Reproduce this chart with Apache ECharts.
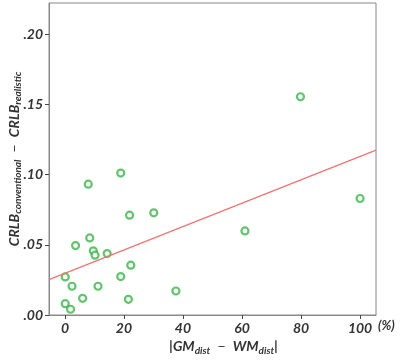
<!DOCTYPE html>
<html lang="en">
<head>
    <title>CRLB difference</title>
    <meta charset="UTF-8">
    <style type="text/css">
        html, body { margin: 0px; width: 100%; height: 100%; background: #fff; }
        #chart { width: 400px; height: 363px; }
    </style>
    <script type="text/javascript" src="https://cdn.jsdelivr.net/npm/echarts@6/dist/echarts.min.js"></script>
</head>
<body>
<div id="chart"></div>
<script type="text/javascript">
    // |GM_dist - WM_dist| (%) vs CRLB_conventional - CRLB_realistic
    var distDiff = [79.8, 18.9, 7.9, 100, 30.1, 21.9, 61.0, 8.4, 3.6, 9.6, 10.2,
        14.3, 22.3, 0.1, 18.9, 2.4, 11.2, 37.6, 6.0, 21.5, 0.1, 1.9];
    var crlbDiff = [0.1555, 0.1011, 0.0932, 0.0830, 0.0728, 0.0711, 0.0599, 0.0549, 0.0495, 0.0457, 0.0426,
        0.0438, 0.0355, 0.0271, 0.0274, 0.0205, 0.0205, 0.0171, 0.0119, 0.0112, 0.0081, 0.0041];
    // fitted line, end points read at the plot edges
    var fitX = [-5.4, 105.4];
    var fitY = [0.0252, 0.1175];
    var xTicks = [0, 20, 40, 60, 80, 100];
    var yTicks = [0, 0.05, 0.10, 0.15, 0.20];

    var font = 'Lato';
    var labelStyle = { fontFamily: font, fontWeight: 'bold', fontStyle: 'italic', fontSize: 14, color: '#333' };

    function draw() {
        var chart = echarts.init(document.getElementById('chart'));
        var points = distDiff.map(function (x, i) { return [x, crlbDiff[i]]; });
        var line = fitX.map(function (x, i) { return [x, fitY[i]]; });
        var rich = {
            b: { fontFamily: font, fontWeight: 'bold', fontStyle: 'italic', fontSize: 14, color: '#333' },
            s: { fontFamily: font, fontWeight: 'bold', fontStyle: 'italic', fontSize: 10, color: '#333', padding: [7, 0, 0, 0] },
            n: { fontFamily: font, fontSize: 14, color: '#333' }
        };
        chart.setOption({
            animation: false,
            grid: {
                left: 49, right: 24, top: 3, bottom: 48, containLabel: false, outerBoundsMode: 'none',
                show: true, borderColor: '#888', borderWidth: 1
            },
            xAxis: {
                type: 'value', min: -5.4, max: 105.4,
                splitLine: { show: false },
                axisLine: { show: true, onZero: false, lineStyle: { color: '#888' } },
                axisTick: { show: true, length: 4, lineStyle: { color: '#444', width: 1 }, customValues: xTicks },
                axisLabel: Object.assign({ margin: 6, customValues: xTicks }, labelStyle),
                name: '{b||GM}{s|dist}{n|  −  }{b|WM}{s|dist}{b||}',
                nameLocation: 'middle', nameGap: 23,
                nameTextStyle: { rich: rich, padding: [0, 0, 0, 22] }
            },
            yAxis: {
                type: 'value', min: 0, max: 0.2223,
                splitLine: { show: false },
                axisLine: { show: true, onZero: false, lineStyle: { color: '#888' } },
                axisTick: { show: true, length: 4, lineStyle: { color: '#444', width: 1 }, customValues: yTicks },
                axisLabel: Object.assign({
                    margin: 6, customValues: yTicks,
                    formatter: function (v) { return v.toFixed(2).replace(/^0/, ''); }
                }, labelStyle),
                name: '{b|CRLB}{s|conventional}{n|  −  }{b|CRLB}{s|realistic}',
                nameLocation: 'middle', nameGap: 26, nameRotate: 90, nameMoveOverlap: false,
                nameTextStyle: { rich: rich }
            },
            graphic: [{
                type: 'text', left: 378, top: 319,
                style: { text: '(%)', font: 'italic bold 13px Lato', fill: '#333' }
            }],
            series: [
                {
                    type: 'line', data: line, symbol: 'none', silent: true,
                    lineStyle: { color: '#f07272', width: 1.2 }
                },
                {
                    type: 'scatter', data: points, symbol: 'circle', symbolSize: 7,
                    itemStyle: { color: '#fff', borderColor: '#3ab54a', borderWidth: 2.2 }
                }
            ]
        });
    }
    draw();
</script>
</body>
</html>
